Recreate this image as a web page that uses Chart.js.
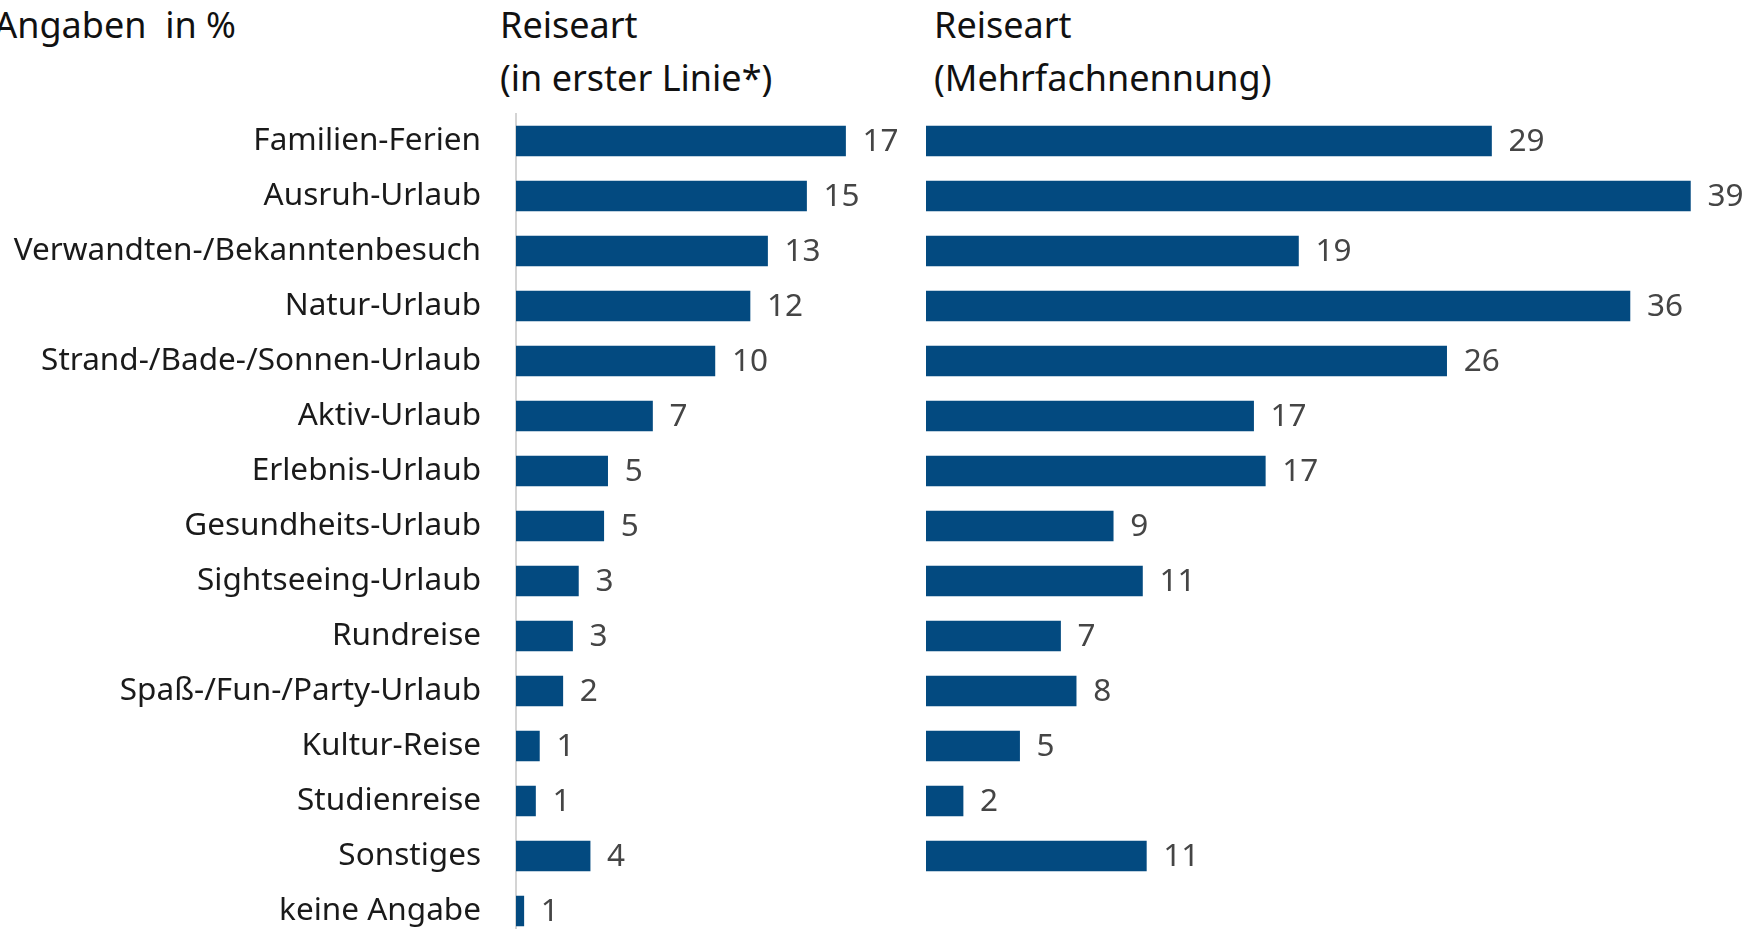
<!DOCTYPE html>
<html>
<head>
<meta charset="utf-8">
<script src="https://cdn.jsdelivr.net/npm/chart.js@4.4.0/dist/chart.umd.min.js"></script>
<style>
  html, body { margin: 0; padding: 0; background: #ffffff; overflow: hidden; width: 1764px; height: 929px; }
  .t { position: absolute; font-family: "Noto Sans", sans-serif; font-size: 36px; color: #111; line-height: 53px; white-space: pre; }
  canvas { position: absolute; top: 0; }
</style>
</head>
<body>
<div class="t" id="unit" style="top:-2px; right:1528px;"></div>
<div class="t" id="titleL" style="top:-2px; left:500px;"></div>
<div class="t" id="titleR" style="top:-2px; left:934px;"></div>
<canvas id="left" width="930" height="960" style="left:0px;"></canvas>
<canvas id="right" width="864" height="960" style="left:900px;"></canvas>
<script>
const categories = [
  "Familien-Ferien",
  "Ausruh-Urlaub",
  "Verwandten-/Bekanntenbesuch",
  "Natur-Urlaub",
  "Strand-/Bade-/Sonnen-Urlaub",
  "Aktiv-Urlaub",
  "Erlebnis-Urlaub",
  "Gesundheits-Urlaub",
  "Sightseeing-Urlaub",
  "Rundreise",
  "Spaß-/Fun-/Party-Urlaub",
  "Kultur-Reise",
  "Studienreise",
  "Sonstiges",
  "keine Angabe"
];
// printed percentages
const firstLineLabels = [17, 15, 13, 12, 10, 7, 5, 5, 3, 3, 2, 1, 1, 4, 1];
const multipleLabels  = [29, 39, 19, 36, 26, 17, 17, 9, 11, 7, 8, 5, 2, 11, null];
// bar lengths (unrounded estimates)
const firstLineValues = [16.9, 14.9, 12.9, 12.0, 10.2, 7.0, 4.7, 4.5, 3.2, 2.9, 2.4, 1.2, 1.0, 3.8, 0.4];
const multipleValues  = [29.0, 39.2, 19.1, 36.1, 26.7, 16.8, 17.4, 9.6, 11.1, 6.9, 7.7, 4.8, 1.9, 11.3, null];
const unitText = "Angaben  in %";
const titleLeft = ["Reiseart", "(in erster Linie*)"];
const titleRight = ["Reiseart", "(Mehrfachnennung)"];

document.getElementById('unit').textContent = unitText;
document.getElementById('titleL').textContent = titleLeft.join("\n");
document.getElementById('titleR').textContent = titleRight.join("\n");

const BAR = "#034a80";
const FONT = "Noto Sans";

const valueLabels = {
  id: 'valueLabels',
  afterDatasetsDraw(chart, args, opts) {
    const ctx = chart.ctx;
    ctx.save();
    ctx.font = "31.5px '" + FONT + "'";
    ctx.fillStyle = "#454545";
    ctx.textAlign = "left";
    ctx.textBaseline = "middle";
    const meta = chart.getDatasetMeta(0);
    meta.data.forEach((el, i) => {
      const t = opts.labels[i];
      if (t === null || t === undefined) return;
      ctx.fillText(String(t), el.x + 17, el.y + 1);
    });
    ctx.restore();
  }
};

function makeChart(id, values, labels, max, padding, showLabels) {
  return new Chart(document.getElementById(id), {
    type: 'bar',
    data: {
      labels: categories,
      datasets: [{
        data: values,
        backgroundColor: BAR,
        borderWidth: 0,
        barThickness: 30
      }]
    },
    options: {
      indexAxis: 'y',
      responsive: false,
      animation: false,
      layout: { padding: padding },
      plugins: {
        legend: { display: false },
        tooltip: { enabled: false },
        valueLabels: { labels: labels }
      },
      scales: {
        x: { display: false, min: 0, max: max },
        y: {
          display: showLabels,
          grid: { display: false, drawTicks: false },
          border: { display: true, color: "#d4d4d4", width: 2 },
          ticks: {
            padding: 35,
            color: "#1a1a1a",
            font: { family: FONT, size: 31.5 }
          },
          afterFit(scale) {
            if (showLabels) scale.width = 516;
            scale.paddingTop = 0;
            scale.paddingBottom = 0;
          }
        }
      }
    },
    plugins: [valueLabels]
  });
}

// chart area: top 113.5, rows of 55px
makeChart('left', firstLineValues, firstLineLabels, 20, { top: 113.5, bottom: 960 - 938.5, left: 0, right: 930 - 906 }, true);
makeChart('right', multipleValues, multipleLabels, 42, { top: 113.5, bottom: 960 - 938.5, left: 26, right: 864 - 845 }, false);
</script>
</body>
</html>
